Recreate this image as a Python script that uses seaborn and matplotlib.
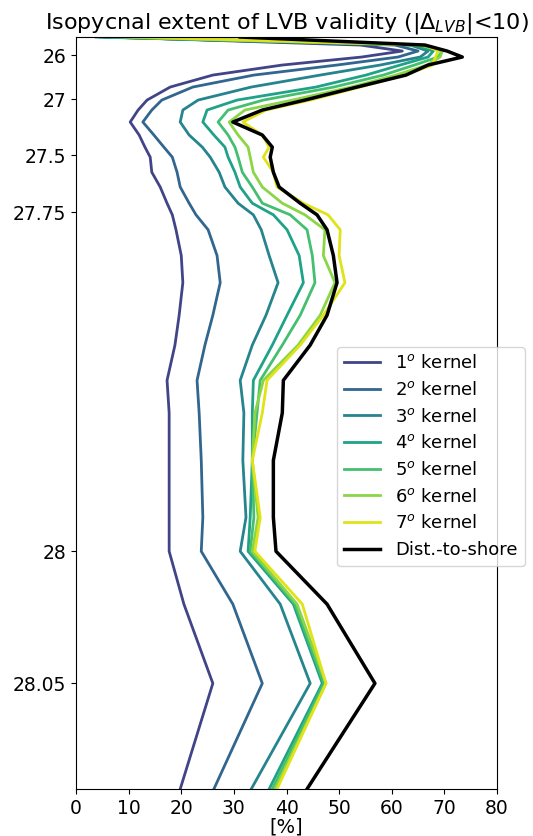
import numpy as np
import matplotlib
matplotlib.use("Agg")
import matplotlib.pyplot as plt
from matplotlib.ticker import FixedLocator, NullLocator
import seaborn as sns

# Potential-density levels (sigma) where LVB validity was evaluated
sigma = [25.591, 25.773, 25.909, 26.045, 26.227, 26.455, 26.727,
         27.009, 27.098, 27.205, 27.321, 27.429,
         27.509, 27.575, 27.640, 27.711,
         27.752, 27.763, 27.782, 27.802, 27.826, 27.848, 27.874, 27.898,
         27.933, 27.975, 28.000,
         28.020, 28.050, 28.090]

# Share of the isopycnal where |Delta_LVB| < 10  [%]
kernel_1 = [6.5, 54.0, 62.0, 54.3, 39.2, 26.0, 17.9, 13.5, 11.8, 10.3, 12.0, 13.1, 14.1, 14.4, 16.0,
            17.3, 18.3, 19.0, 20.0, 20.3, 19.6, 18.8, 17.3, 17.7, 17.7, 17.7, 17.7, 20.5, 26.0, 19.8]
kernel_2 = [5.5, 60.6, 65.0, 61.2, 49.6, 33.8, 22.2, 16.3, 14.4, 12.7, 14.8, 16.7, 18.3, 19.2, 19.8,
            21.5, 22.8, 25.1, 26.8, 27.4, 26.0, 24.5, 23.0, 23.4, 23.8, 24.1, 23.8, 29.8, 35.4, 26.2]
kernel_3 = [3.8, 63.5, 66.9, 65.4, 57.8, 46.4, 33.3, 23.2, 20.3, 19.8, 21.5, 24.0, 25.5, 27.2, 28.3,
            30.8, 33.7, 35.2, 36.7, 38.4, 36.1, 33.5, 31.2, 31.9, 31.7, 32.3, 31.2, 38.8, 44.5, 33.3]
kernel_4 = [4.6, 64.4, 67.9, 66.9, 61.6, 55.1, 45.6, 30.6, 24.9, 24.1, 26.2, 28.3, 28.9, 30.2, 31.2,
            33.5, 37.5, 40.1, 42.4, 43.2, 40.1, 37.3, 33.7, 33.5, 33.5, 33.1, 32.7, 41.3, 46.8, 36.7]
kernel_5 = [6.5, 65.4, 69.6, 68.8, 64.3, 58.4, 49.0, 35.6, 28.9, 27.0, 28.9, 30.2, 30.8, 31.6, 33.5,
            35.4, 40.7, 43.9, 44.9, 45.4, 42.6, 39.2, 35.0, 34.4, 33.5, 33.8, 33.1, 41.6, 47.1, 37.3]
kernel_6 = [9.3, 65.4, 69.6, 69.2, 66.7, 60.8, 52.3, 41.1, 32.1, 29.1, 30.8, 32.7, 33.1, 33.7, 35.4,
            39.2, 43.5, 47.3, 47.0, 49.2, 46.4, 42.2, 35.6, 34.0, 33.5, 34.6, 33.5, 42.0, 47.5, 37.8]
kernel_7 = [10.8, 66.3, 68.8, 68.3, 67.7, 62.4, 54.0, 44.5, 36.1, 31.7, 35.4, 36.7, 35.6, 37.5, 38.2,
            43.2, 47.9, 50.2, 50.0, 51.1, 47.0, 42.6, 36.3, 35.4, 33.5, 35.0, 34.0, 43.0, 47.5, 38.2]
dist_to_shore = [31.2, 66.3, 70.5, 73.4, 66.9, 62.7, 53.4, 43.5, 35.4, 29.8, 35.4, 37.3, 36.9, 37.5, 38.6,
                 42.6, 45.8, 47.7, 48.9, 49.6, 47.7, 44.5, 39.4, 39.2, 37.5, 37.5, 38.0, 47.7, 56.8, 43.9]

kernels = [kernel_1, kernel_2, kernel_3, kernel_4, kernel_5, kernel_6, kernel_7]
kernel_labels = [f"{i}$^o$ kernel" for i in range(1, 8)]
shore_label = "Dist.-to-shore"

sigma_ticks = [26, 27, 27.5, 27.75, 28, 28.05]
sigma_ticklabels = ["26", "27", "27.5", "27.75", "28", "28.05"]
pct_ticks = list(range(0, 81, 10))

# Stretched density axis: piecewise-linear map sigma -> axis coordinate
scale_sigma = [25.0, 26.0, 27.0, 27.5, 27.75, 28.0, 28.05, 28.3]
scale_coord = [-26.0, 18.0, 62.0, 118.0, 175.0, 514.0, 646.0, 1306.0]


def fwd(s):
    return np.interp(s, scale_sigma, scale_coord)


def inv(c):
    return np.interp(c, scale_coord, scale_sigma)


fig = plt.figure(figsize=(5.33, 8.36), dpi=100)
ax = fig.add_axes([0.1426, 0.0562, 0.9325 - 0.1426, 0.9557 - 0.0562])

cmap = sns.color_palette("viridis", as_cmap=True)
colors = [cmap(v) for v in np.linspace(0.2, 0.95, 7)]

for vals, lab, col in zip(kernels, kernel_labels, colors):
    sns.lineplot(x=vals, y=sigma, orient="y", sort=False, estimator=None,
                 color=col, lw=2.0, label=lab, ax=ax)
sns.lineplot(x=dist_to_shore, y=sigma, orient="y", sort=False, estimator=None,
             color="black", lw=2.5, label=shore_label, ax=ax)

ax.set_yscale("function", functions=(fwd, inv))
ax.set_ylim(28.090, 25.591)
ax.yaxis.set_major_locator(FixedLocator(sigma_ticks))
ax.yaxis.set_minor_locator(NullLocator())
ax.set_yticklabels(sigma_ticklabels)
ax.set_ylabel("")

ax.set_xlim(0, 80)
ax.set_xticks(pct_ticks)
ax.set_xlabel("[%]", fontsize=14, labelpad=0)
ax.tick_params(labelsize=13.5)
ax.set_title(r"Isopycnal extent of LVB validity ($|\Delta_{LVB}|$<10)", fontsize=16, pad=6)

handles, labels = ax.get_legend_handles_labels()
ax.legend(handles, labels, loc="upper left", bbox_to_anchor=(0.6323, 0.5849),
          bbox_transform=fig.transFigure, borderaxespad=0, fontsize=13,
          labelspacing=0.48, framealpha=0.8)

fig.savefig("out.png", dpi=100)
